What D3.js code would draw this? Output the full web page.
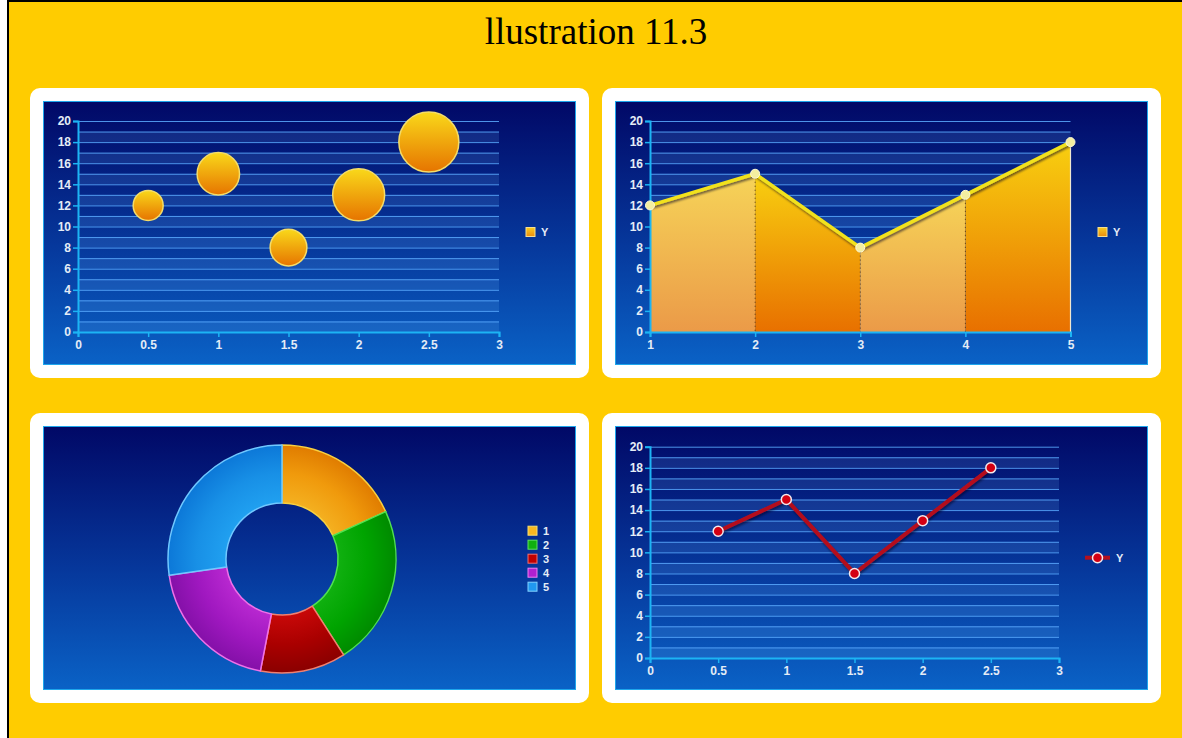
<!DOCTYPE html>
<html>
<head>
<meta charset="utf-8">
<script src="https://cdnjs.cloudflare.com/ajax/libs/d3/7.8.5/d3.min.js"></script>
<style>
  html, body { margin: 0; padding: 0; background: #ffffff; overflow: hidden; }
  svg { display: block; }
</style>
</head>
<body>
<svg id="page" width="1182" height="738"></svg>
<script>
// ---- data ----
const bubbleX = [0.5, 1, 1.5, 2, 2.5];
const bubbleY = [12, 15, 8, 13, 18];
const bubbleSize = [1, 2, 1.5, 3, 4];

const areaX = [1, 2, 3, 4, 5];
const areaY = [12, 15, 8, 13, 18];

const donutLabels = ["1", "2", "3", "4", "5"];
const donutValues = [12, 15, 8, 13, 18];

const lineX = [0.5, 1, 1.5, 2, 2.5];
const lineY = [12, 15, 8, 13, 18];

const yTicks = [0, 2, 4, 6, 8, 10, 12, 14, 16, 18, 20];
const halfXTicks = [0, 0.5, 1, 1.5, 2, 2.5, 3];
const intXTicks = [1, 2, 3, 4, 5];
const seriesName = "Y";
const titleText = "llustration 11.3";

// ---- page ----
const svg = d3.select("#page");
const defs = svg.append("defs");

// chart background gradient
const bg = defs.append("linearGradient").attr("id", "bgGrad")
  .attr("x1", 0).attr("y1", 0).attr("x2", 0).attr("y2", 1);
bg.append("stop").attr("offset", "0%").attr("stop-color", "#010866");
bg.append("stop").attr("offset", "55%").attr("stop-color", "#06389c");
bg.append("stop").attr("offset", "100%").attr("stop-color", "#0a62c6");

// bubble gradient
const bub = defs.append("linearGradient").attr("id", "bubGrad")
  .attr("x1", 0).attr("y1", 0).attr("x2", 0).attr("y2", 1);
bub.append("stop").attr("offset", "0%").attr("stop-color", "#f9d81a");
bub.append("stop").attr("offset", "100%").attr("stop-color", "#e67400");

// area gradients: pale and saturated
const paleG = defs.append("linearGradient").attr("id", "areaPale")
  .attr("x1", 0).attr("y1", 0).attr("x2", 0).attr("y2", 1);
paleG.append("stop").attr("offset", "0%").attr("stop-color", "#f6d458");
paleG.append("stop").attr("offset", "100%").attr("stop-color", "#eb9a48");
const satG = defs.append("linearGradient").attr("id", "areaSat")
  .attr("x1", 0).attr("y1", 0).attr("x2", 0).attr("y2", 1);
satG.append("stop").attr("offset", "0%").attr("stop-color", "#f8d010");
satG.append("stop").attr("offset", "100%").attr("stop-color", "#e87000");

// legend swatch gradient
const sw = defs.append("linearGradient").attr("id", "swGrad")
  .attr("x1", 0).attr("y1", 0).attr("x2", 0).attr("y2", 1);
sw.append("stop").attr("offset", "0%").attr("stop-color", "#f8cc20");
sw.append("stop").attr("offset", "100%").attr("stop-color", "#eb8c10");

// soft shadow under lines
const sh = defs.append("filter").attr("id", "shadow")
  .attr("x", "-10%").attr("y", "-10%").attr("width", "120%").attr("height", "130%");
sh.append("feDropShadow").attr("dx", 1).attr("dy", 2).attr("stdDeviation", 1.2)
  .attr("flood-color", "#000020").attr("flood-opacity", 0.55);

// yellow frame
svg.append("rect").attr("x", 8).attr("y", 1).attr("width", 1300).attr("height", 900)
  .attr("fill", "#ffcc00").attr("stroke", "#000").attr("stroke-width", 2);

svg.append("text").attr("x", 596).attr("y", 44).attr("text-anchor", "middle")
  .attr("font-family", "'Liberation Serif', 'Times New Roman', serif")
  .attr("font-size", 37).attr("fill", "#000").text(titleText);

// panel placement
const panelW = 559, panelH = 290, inset = 13;
const panels = [[30, 88], [602, 88], [30, 413], [602, 413]];

const chartGroups = panels.map(([px, py]) => {
  svg.append("rect").attr("x", px).attr("y", py).attr("width", panelW).attr("height", panelH)
    .attr("rx", 10).attr("fill", "#ffffff");
  const g = svg.append("g").attr("transform", `translate(${px + inset},${py + inset})`);
  g.append("rect").attr("x", 0.5).attr("y", 0.5)
    .attr("width", panelW - 2 * inset - 1).attr("height", panelH - 2 * inset - 1)
    .attr("fill", "url(#bgGrad)").attr("stroke", "#1ea6ec").attr("stroke-width", 1);
  return g;
});

const labelFont = "'Liberation Sans', Arial, sans-serif";

// grid bands and grid lines for the cartesian charts
function drawFrame(g, x, y) {
  const [x0, x1] = x.range();
  const minor = d3.range(0, 21, 1);
  const bandG = g.append("g");
  minor.filter(v => v % 2 === 0 && v < 20).forEach(v => {
    bandG.append("rect").attr("x", x0).attr("width", x1 - x0)
      .attr("y", y(v + 1)).attr("height", y(v) - y(v + 1))
      .attr("fill", "rgba(120,190,255,0.14)");
  });
  g.append("g").selectAll("line").data(minor).join("line")
    .attr("x1", x0).attr("x2", x1)
    .attr("y1", d => y(d) + 0.5).attr("y2", d => y(d) + 0.5)
    .attr("stroke", "rgba(90,170,255,0.85)").attr("stroke-width", 1);
}

function drawAxes(g, x, y, xTicks) {
  const yAx = g.append("g").attr("transform", `translate(${x.range()[0]},0)`)
    .call(d3.axisLeft(y).tickValues(yTicks).tickSize(5).tickPadding(2));
  const xAx = g.append("g").attr("transform", `translate(0,${y(0)})`)
    .call(d3.axisBottom(x).tickValues(xTicks).tickSize(5).tickPadding(3).tickFormat(d3.format("~g")));
  [yAx, xAx].forEach(a => {
    a.select(".domain").attr("stroke", "#1cb4f4").attr("stroke-width", 2);
    a.selectAll(".tick line").attr("stroke", "#1cb4f4").attr("stroke-width", 1.5);
    a.selectAll(".tick text").attr("fill", "#e4ecf6").attr("font-family", labelFont)
      .attr("font-size", 12).attr("font-weight", "bold");
  });
}

function swatchLegend(g, lx, cy, label, fill, stroke) {
  g.append("rect").attr("x", lx).attr("y", cy - 4.5).attr("width", 9).attr("height", 9)
    .attr("fill", fill).attr("stroke", stroke).attr("stroke-width", 1);
  g.append("text").attr("x", lx + 15).attr("y", cy + 4).attr("fill", "#e4ecf6")
    .attr("font-family", labelFont).attr("font-size", 11).attr("font-weight", "bold").text(label);
}

// ---- chart 1: bubbles ----
{
  const g = chartGroups[0];
  const x = d3.scaleLinear().domain([0, 3]).range([35, 456]);
  const y = d3.scaleLinear().domain([0, 20]).range([231, 20]);
  const r = d3.scaleSqrt().domain([0, 4]).range([0, 30]);
  drawFrame(g, x, y);
  drawAxes(g, x, y, halfXTicks);
  g.append("g").selectAll("circle").data(bubbleX.map((d, i) => i)).join("circle")
    .attr("cx", i => x(bubbleX[i])).attr("cy", i => y(bubbleY[i]))
    .attr("r", i => r(bubbleSize[i]))
    .attr("fill", "url(#bubGrad)").attr("stroke", "#f4dc68").attr("stroke-width", 1.5);
  swatchLegend(g, 483, 131, seriesName, "url(#swGrad)", "#f6e090");
}

// ---- chart 2: area ----
{
  const g = chartGroups[1];
  const x = d3.scaleLinear().domain([1, 5]).range([35, 455.5]);
  const y = d3.scaleLinear().domain([0, 20]).range([231, 20]);
  drawFrame(g, x, y);
  const pts = areaX.map((d, i) => [d, areaY[i]]);
  const area = d3.area().x(d => x(d[0])).y0(y(0)).y1(d => y(d[1]));
  for (let i = 0; i < pts.length - 1; i++) {
    g.append("path").datum([pts[i], pts[i + 1]]).attr("d", area)
      .attr("fill", i % 2 === 0 ? "url(#areaPale)" : "url(#areaSat)");
  }
  // dotted drop lines at inner points
  g.append("g").selectAll("line").data(pts.slice(1, -1)).join("line")
    .attr("x1", d => x(d[0])).attr("x2", d => x(d[0]))
    .attr("y1", d => y(d[1])).attr("y2", y(0))
    .attr("stroke", "#5a3818").attr("stroke-width", 1).attr("stroke-dasharray", "1,3");
  const last = pts[pts.length - 1];
  g.append("line").attr("x1", x(last[0])).attr("x2", x(last[0]))
    .attr("y1", y(last[1])).attr("y2", y(0))
    .attr("stroke", "#f0e8d0").attr("stroke-width", 1.2);
  drawAxes(g, x, y, intXTicks);
  g.append("path").datum(pts)
    .attr("d", d3.line().x(d => x(d[0])).y(d => y(d[1])))
    .attr("fill", "none").attr("stroke", "#f2e21c").attr("stroke-width", 3.5)
    .attr("stroke-linejoin", "round").attr("filter", "url(#shadow)");
  g.append("g").selectAll("circle").data(pts).join("circle")
    .attr("cx", d => x(d[0])).attr("cy", d => y(d[1])).attr("r", 4.5)
    .attr("fill", "#f4eea0").attr("stroke", "#fffbd8").attr("stroke-width", 1);
  swatchLegend(g, 483, 131, seriesName, "url(#swGrad)", "#f6e090");
}

// ---- chart 3: donut ----
{
  const g = chartGroups[2];
  const cx = 239, cy = 133, rOuter = 114, rInner = 56;
  const palette = [
    { inner: "#f4b020", mid: "#f09a0c", outer: "#e07c00", stroke: "#f8d040" },
    { inner: "#10b010", mid: "#00a400", outer: "#008a00", stroke: "#50e050" },
    { inner: "#c80808", mid: "#aa0000", outer: "#8a0000", stroke: "#f08070" },
    { inner: "#b828d0", mid: "#a018c0", outer: "#8410a8", stroke: "#f070e8" },
    { inner: "#20a0f0", mid: "#1890e6", outer: "#0c78d8", stroke: "#70c8ff" }
  ];
  palette.forEach((p, i) => {
    const rg = defs.append("radialGradient").attr("id", "slice" + i)
      .attr("gradientUnits", "userSpaceOnUse")
      .attr("cx", 0).attr("cy", 0).attr("r", rOuter);
    rg.append("stop").attr("offset", rInner / rOuter).attr("stop-color", p.inner);
    rg.append("stop").attr("offset", 0.75).attr("stop-color", p.mid);
    rg.append("stop").attr("offset", 1).attr("stop-color", p.outer);
  });
  const pie = d3.pie().sort(null).value(d => d);
  const arc = d3.arc().innerRadius(rInner).outerRadius(rOuter);
  const dg = g.append("g").attr("transform", `translate(${cx},${cy})`);
  dg.selectAll("path").data(pie(donutValues)).join("path")
    .attr("d", arc)
    .attr("fill", (d, i) => `url(#slice${i})`)
    .attr("stroke", (d, i) => palette[i].stroke).attr("stroke-width", 1.5)
    .attr("stroke-linejoin", "round");
  const legendColors = ["#f8b820", "#10b010", "#c00000", "#b020d0", "#2098f0"];
  const legendStrokes = ["#f8e070", "#60e060", "#f07070", "#f080f0", "#80d0ff"];
  donutLabels.forEach((lab, i) => {
    swatchLegend(g, 485, 104.7 + i * 14, lab, legendColors[i], legendStrokes[i]);
  });
}

// ---- chart 4: line ----
{
  const g = chartGroups[3];
  const x = d3.scaleLinear().domain([0, 3]).range([35, 444]);
  const y = d3.scaleLinear().domain([0, 20]).range([232, 20.7]);
  drawFrame(g, x, y);
  drawAxes(g, x, y, halfXTicks);
  const pts = lineX.map((d, i) => [d, lineY[i]]);
  g.append("path").datum(pts)
    .attr("d", d3.line().x(d => x(d[0])).y(d => y(d[1])))
    .attr("fill", "none").attr("stroke", "#b4101e").attr("stroke-width", 4)
    .attr("stroke-linejoin", "round").attr("filter", "url(#shadow)");
  g.append("g").selectAll("circle").data(pts).join("circle")
    .attr("cx", d => x(d[0])).attr("cy", d => y(d[1])).attr("r", 5)
    .attr("fill", "#d40012").attr("stroke", "#f4e8ec").attr("stroke-width", 1.5);
  // legend
  g.append("line").attr("x1", 470).attr("x2", 495).attr("y1", 131.7).attr("y2", 131.7)
    .attr("stroke", "#b4101e").attr("stroke-width", 4);
  g.append("circle").attr("cx", 482.5).attr("cy", 131.7).attr("r", 5)
    .attr("fill", "#d40012").attr("stroke", "#f4e8ec").attr("stroke-width", 1.5);
  g.append("text").attr("x", 501).attr("y", 135.7).attr("fill", "#e4ecf6")
    .attr("font-family", labelFont).attr("font-size", 11).attr("font-weight", "bold").text(seriesName);
}
</script>
</body>
</html>
